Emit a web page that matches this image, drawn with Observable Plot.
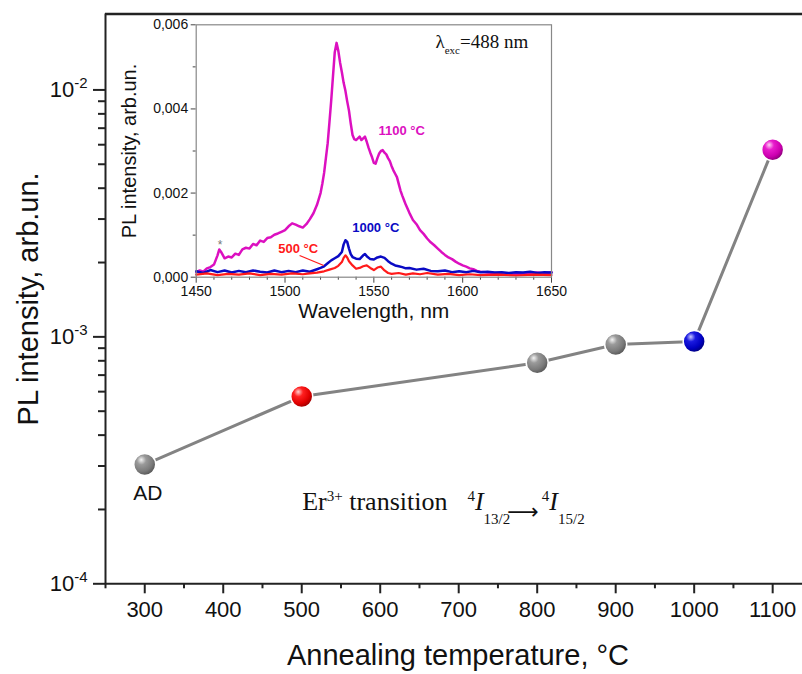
<!DOCTYPE html>
<html><head><meta charset="utf-8">
<script src="https://cdn.jsdelivr.net/npm/d3@7"></script>
<script src="https://cdn.jsdelivr.net/npm/@observablehq/plot@0.6"></script>
<style>
html,body{margin:0;padding:0;background:#fff;}
#wrap{position:relative;width:802px;height:674px;overflow:hidden;background:#fff;}
#main{position:absolute;left:0;top:0;}
#inset{position:absolute;left:100px;top:14px;}
</style></head>
<body><div id="wrap"><div id="main"></div><div id="inset"></div></div>
<script>
// ---------- main chart data ----------
const temperatures = [300, 500, 800, 900, 1000, 1100];
const intensities  = [3.04e-4, 5.73e-4, 7.85e-4, 9.31e-4, 9.57e-4, 5.73e-3];
const pointLabels  = ["AD", "", "", "", "", ""];
const xDomain = [250, 1138];
const yDomain = [1e-4, 0.0203];
const xMajorTicks = [300, 400, 500, 600, 700, 800, 900, 1000, 1100];
const xMinorTicks = [250, 350, 450, 550, 650, 750, 850, 950, 1050];
const yMajorTicks = [1e-4, 1e-3, 1e-2];
const yMinorTicks = [2e-4,3e-4,4e-4,5e-4,6e-4,7e-4,8e-4,9e-4,2e-3,3e-3,4e-3,5e-3,6e-3,7e-3,8e-3,9e-3];
const transitionNote = [{t: 500.6, v: 2.15e-4}];

// ---------- inset data (wavelength nm, PL intensity) ----------
const spectrum1100 = [
[1450,.00012],[1452,.00016],[1454,.00013],[1456,.00021],[1458,.00024],[1460,.00030],[1462,.00052],[1463,.00066],
[1464,.00060],[1466,.00045],[1468,.00049],[1470,.00047],[1472,.00056],[1474,.00053],[1476,.00066],[1478,.00070],
[1480,.00068],[1482,.00079],[1484,.00076],[1486,.00087],[1488,.00084],[1490,.00093],[1492,.00095],[1494,.00101],
[1496,.00104],[1498,.00108],[1500,.00112],[1502,.00121],[1504,.00128],[1506,.00125],[1508,.00121],[1510,.00118],
[1512,.00126],[1514,.00138],[1516,.00152],[1518,.00172],[1520,.00200],[1521,.00222],[1522,.00248],[1523,.00283],
[1524,.00318],[1525,.00368],[1526,.00420],[1527,.00478],[1528,.00535],[1529,.00557],[1530,.00538],[1531,.00510],
[1532,.00487],[1533,.00462],[1534,.00443],[1535,.00418],[1536,.00396],[1537,.00365],[1538,.00338],[1539,.00328],
[1540,.00326],[1541,.00330],[1542,.00334],[1543,.00326],[1544,.00330],[1545,.00334],[1546,.00322],[1547,.00308],
[1548,.00296],[1549,.00285],[1550,.00272],[1551,.00270],[1552,.00283],[1553,.00294],[1554,.00300],[1555,.00302],
[1556,.00296],[1557,.00292],[1558,.00283],[1559,.00276],[1560,.00264],[1561,.00254],[1562,.00246],[1563,.00238],
[1564,.00222],[1565,.00206],[1566,.00194],[1567,.00183],[1568,.00172],[1570,.00153],[1572,.00136],[1574,.00126],
[1576,.00112],[1578,.00103],[1580,.00092],[1582,.00083],[1584,.00076],[1586,.00068],[1588,.00060],[1590,.00053],
[1592,.00047],[1594,.00043],[1596,.00037],[1598,.00032],[1600,.00028],[1602,.00025],[1604,.00021],[1606,.00019],
[1608,.00015],[1610,.00013],[1614,.00011],[1618,.00010],[1622,.00008],[1626,.00009],[1630,.00007],[1634,.00009],
[1638,.00010],[1642,.00011],[1646,.00009],[1650,.00012]];
const spectrum1000 = [
[1450,.00014],[1454,.00010],[1458,.00017],[1462,.00012],[1466,.00016],[1470,.00011],[1474,.00015],[1478,.00012],
[1482,.00016],[1486,.00013],[1490,.00011],[1494,.00016],[1498,.00012],[1502,.00015],[1506,.00012],[1510,.00016],
[1514,.00013],[1518,.00019],[1520,.00022],[1522,.00026],[1524,.00033],[1526,.00040],[1528,.00045],[1530,.00050],
[1532,.00060],[1533,.00078],[1534,.00088],[1535,.00084],[1536,.00068],[1537,.00055],[1538,.00048],[1540,.00044],
[1542,.00043],[1544,.00052],[1545,.00055],[1546,.00050],[1548,.00043],[1550,.00042],[1552,.00047],[1554,.00049],
[1556,.00046],[1558,.00038],[1560,.00032],[1562,.00028],[1564,.00026],[1566,.00024],[1568,.00021],[1570,.00022],
[1574,.00018],[1578,.00020],[1582,.00015],[1586,.00014],[1590,.00016],[1594,.00012],[1598,.00014],[1602,.00012],
[1606,.00015],[1610,.00012],[1614,.00013],[1618,.00011],[1622,.00012],[1626,.00010],[1630,.00012],[1634,.00011],
[1638,.00013],[1642,.00010],[1646,.00012],[1650,.00011]];
const spectrum500 = [
[1450,.00006],[1456,.00009],[1462,.00005],[1468,.00008],[1474,.00006],[1480,.00009],[1486,.00005],[1492,.00008],
[1498,.00006],[1504,.00009],[1510,.00007],[1514,.00009],[1518,.00011],[1522,.00014],[1525,.00018],[1528,.00022],
[1530,.00027],[1532,.00036],[1533,.00046],[1534,.00052],[1535,.00047],[1536,.00038],[1538,.00028],[1540,.00020],
[1542,.00022],[1544,.00026],[1546,.00028],[1548,.00022],[1550,.00017],[1552,.00023],[1554,.00025],[1556,.00016],
[1558,.00010],[1560,.00008],[1564,.00010],[1568,.00006],[1572,.00009],[1576,.00007],[1580,.00010],[1586,.00006],
[1592,.00008],[1598,.00005],[1604,.00007],[1610,.00005],[1620,.00006],[1630,.00004],[1640,.00006],[1650,.00005]];
const insetXMajor = [1450, 1500, 1550, 1600, 1650];
const insetXMinor = [1460,1470,1480,1490,1510,1520,1530,1540,1560,1570,1580,1590,1610,1620,1630,1640];
const insetYMajor = [0, 0.002, 0.004, 0.006];
const insetYMinor = [0.001, 0.003, 0.005];
const seriesLabels = [
  {temp: 1100, wl: 1552.6, v: 0.00349, label: "1100 °C"},
  {temp: 1000, wl: 1537.8, v: 0.00118, label: "1000 °C"},
  {temp: 500,  wl: 1496.2, v: 0.000663, label: "500 °C"}
];
const pointer500 = [{wl1: 1508.2, v1: 0.000516, wl2: 1521.8, v2: 0.000278}];
const starNote = [{wl: 1463.5, v: 0.00075}];
const excNote = [{wl: 1584.7, v: 0.0056}];

// ---------- styles ----------
const seriesColor = {1100: "#dc10c0", 1000: "#0a0ac4", 500: "#ff1a1a"};
const sphereName = t => t === 500 ? "red" : t === 1000 ? "blue" : t === 1100 ? "magenta" : "gray";
const sans = "'Liberation Sans', Arial, sans-serif";
const serif = "'Liberation Serif', 'Times New Roman', serif";

const points = temperatures.map((t, i) => ({t, v: intensities[i], label: pointLabels[i]}));

const main = Plot.plot({
  width: 802, height: 674,
  marginLeft: 105, marginRight: 0, marginTop: 13.5, marginBottom: 90.7,
  style: {fontFamily: sans, background: "transparent", overflow: "visible", color: "#111"},
  x: {domain: xDomain},
  y: {type: "log", domain: yDomain},
  color: {type: "identity"},
  marks: [
    Plot.axisX({ticks: xMajorTicks, tickSize: 10, tickPadding: 8, fontSize: 22, stroke: "#222", strokeWidth: 2, tickFormat: d => String(d), label: null}),
    Plot.axisX({ticks: xMinorTicks, tickSize: 5, stroke: "#222", strokeWidth: 2, tickFormat: () => "", label: null}),
    Plot.axisY({ticks: yMajorTicks, tickSize: 12, tickPadding: 6, fontSize: 22, stroke: "#222", strokeWidth: 2, tickFormat: d => "E" + Math.round(Math.log10(d)), label: null}),
    Plot.axisY({ticks: yMinorTicks, tickSize: 7, stroke: "#222", strokeWidth: 2, tickFormat: () => "", label: null}),
    Plot.ruleX([xDomain[0]], {stroke: "#222", strokeWidth: 2}),
    Plot.ruleY([yDomain[0]], {stroke: "#222", strokeWidth: 2}),
    Plot.ruleY([yDomain[1]], {stroke: "#222", strokeWidth: 2.5}),
    Plot.line(points, {x: "t", y: "v", stroke: "#838383", strokeWidth: 3}),
    Plot.dot(points, {x: "t", y: "v", r: 11, fill: d => `url(#sph-${sphereName(d.t)})`, stroke: "#fff", strokeWidth: 1.5}),
    Plot.text(points.filter(d => d.label), {x: "t", y: "v", text: "label", dy: 29, dx: 3, fontSize: 21, fill: "#111"}),
    Plot.text(transitionNote, {x: "t", y: "v", text: () => "Er3+note", textAnchor: "start", fontFamily: serif, fontSize: 26, fill: "#111"}),
    Plot.text(["PL intensity, arb.un."], {text: d => d, frameAnchor: "left", textAnchor: "middle", lineAnchor: "middle", dx: -77, rotate: -90, fontSize: 29, fill: "#111"}),
    Plot.text(["Annealing temperature, °C"], {text: d => d, frameAnchor: "bottom", textAnchor: "middle", lineAnchor: "middle", dy: 72, dx: 4, fontSize: 29, fill: "#111"})
  ]
});
document.getElementById("main").appendChild(main);

// sphere gradients
const defs = d3.select(main).insert("defs", ":first-child");
const sphereStops = {
  gray:    ["#f4f4f4", "#9a9a9a", "#7a7a7a", "#505050"],
  red:     ["#ffd0d0", "#ff2020", "#e00000", "#900000"],
  blue:    ["#c8c8ff", "#1a1ae0", "#0000c0", "#000070"],
  magenta: ["#ffd0f4", "#e81ccc", "#cc00b0", "#800070"]
};
for (const [name, c] of Object.entries(sphereStops)) {
  const g = defs.append("radialGradient").attr("id", "sph-" + name)
    .attr("cx", "38%").attr("cy", "34%").attr("r", "70%").attr("fx", "34%").attr("fy", "28%");
  g.append("stop").attr("offset", "0%").attr("stop-color", c[0]);
  g.append("stop").attr("offset", "30%").attr("stop-color", c[1]);
  g.append("stop").attr("offset", "70%").attr("stop-color", c[2]);
  g.append("stop").attr("offset", "100%").attr("stop-color", c[3]);
}

function rich(el, parts) {
  const sel = d3.select(el);
  sel.text(null);
  for (const p of parts) {
    const t = sel.append("tspan").text(p.t);
    if (p.size) t.attr("font-size", p.size);
    if (p.dy) t.attr("dy", p.dy);
    if (p.dx) t.attr("dx", p.dx);
    if (p.italic) t.attr("font-style", "italic");
    if (p.family) t.attr("font-family", p.family);
  }
}
function findTexts(svg, test) {
  return Array.from(svg.querySelectorAll("text")).filter(t => test(t.textContent));
}

// superscript log tick labels
for (const t of findTexts(main, s => /^E-\d$/.test(s))) {
  const e = t.textContent.slice(1);
  rich(t, [{t: "10"}, {t: e, size: 15, dy: -9}]);
}

// transition annotation
for (const t of findTexts(main, s => s === "Er3+note")) {
  rich(t, [
    {t: "Er"},
    {t: "3+", size: 15, dy: -9},
    {t: " transition", dy: 9},
    {t: "4", size: 15, dx: 20, dy: -9},
    {t: "I", italic: true, dy: 9},
    {t: "13/2", size: 15, dy: 14},
    {t: "\u27F6", size: 22, dx: -3, dy: -5, family: "'DejaVu Sans', sans-serif"},
    {t: "4", size: 15, dx: 3, dy: -18},
    {t: "I", italic: true, dy: 9},
    {t: "15/2", size: 15, dy: 14}
  ]);
}

// ---------- inset ----------
const inset = Plot.plot({
  width: 466, height: 318,
  marginLeft: 95.7, marginRight: 15, marginTop: 10.3, marginBottom: 55.3,
  style: {fontFamily: sans, background: "transparent", overflow: "visible", color: "#111"},
  x: {domain: [1450, 1650]},
  y: {domain: [0, 0.006]},
  color: {type: "identity"},
  marks: [
    Plot.axisX({ticks: insetXMajor, tickSize: 6, tickPadding: 3, fontSize: 14, stroke: "#444", tickFormat: d => String(d), label: null}),
    Plot.axisX({ticks: insetXMinor, tickSize: 3, stroke: "#444", tickFormat: () => "", label: null}),
    Plot.axisY({ticks: insetYMajor, tickSize: 5, tickPadding: 3, fontSize: 14, stroke: "#444", tickFormat: d => d.toFixed(3).replace(".", ","), label: null}),
    Plot.axisY({ticks: insetYMinor, tickSize: 3, stroke: "#444", tickFormat: () => "", label: null}),
    Plot.line(spectrum1100, {x: d => d[0], y: d => d[1], stroke: seriesColor[1100], strokeWidth: 2.5}),
    Plot.line(spectrum1000, {x: d => d[0], y: d => d[1], stroke: seriesColor[1000], strokeWidth: 2.5}),
    Plot.line(spectrum500, {x: d => d[0], y: d => d[1], stroke: seriesColor[500], strokeWidth: 2.2}),
    Plot.frame({stroke: "#888", strokeWidth: 1.2}),
    Plot.link(pointer500, {x1: "wl1", y1: "v1", x2: "wl2", y2: "v2", stroke: seriesColor[500], strokeWidth: 1.3}),
    Plot.text(seriesLabels, {x: "wl", y: "v", text: "label", fill: d => seriesColor[d.temp], textAnchor: "start", fontSize: 13, fontWeight: "bold"}),
    Plot.text(starNote, {x: "wl", y: "v", text: () => "*", fill: "#777", fontSize: 12}),
    Plot.text(excNote, {x: "wl", y: "v", text: () => "lambda-exc", textAnchor: "start", fontFamily: serif, fontSize: 19, fill: "#111"}),
    Plot.text(["PL intensity, arb.un."], {text: d => d, frameAnchor: "left", textAnchor: "middle", lineAnchor: "middle", dx: -67, rotate: -90, fontSize: 20, fill: "#111"}),
    Plot.text(["Wavelength, nm"], {text: d => d, frameAnchor: "bottom", textAnchor: "middle", lineAnchor: "middle", dy: 34, fontSize: 21, fill: "#111"})
  ]
});
document.getElementById("inset").appendChild(inset);

for (const t of findTexts(inset, s => s === "lambda-exc")) {
  rich(t, [
    {t: "λ"},
    {t: "exc", size: 11, dy: 6},
    {t: "=488 nm", dy: -6}
  ]);
}
</script>
</body></html>
